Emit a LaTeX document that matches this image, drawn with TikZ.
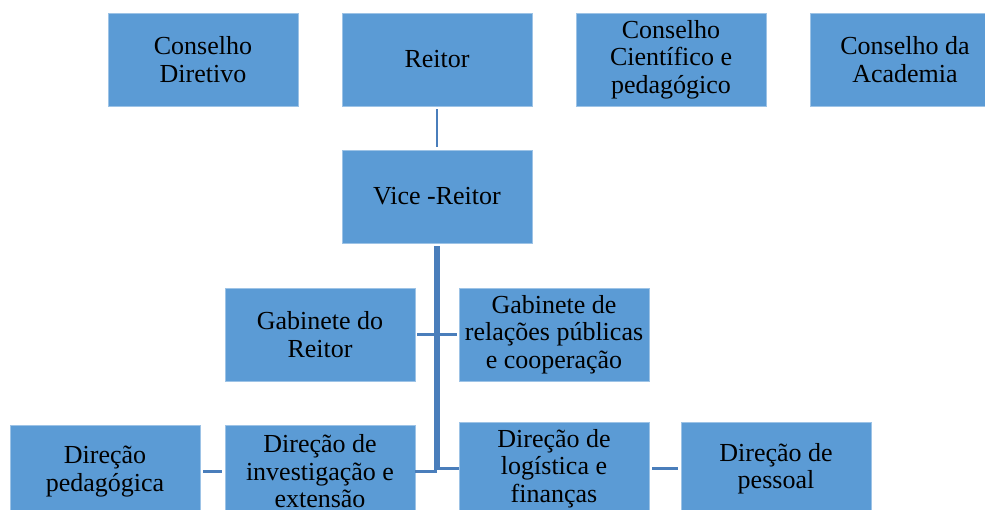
\documentclass[tikz,border=0pt]{standalone}
\usepackage{fontspec}
\setmainfont{Liberation Serif}
\usepackage{xcolor}
\usepackage{tikz}
\usetikzlibrary{positioning,calc}
\definecolor{OrgBlue}{HTML}{5B9BD5}
\definecolor{OrgEdge}{HTML}{9DC3E6}
\definecolor{OrgLine}{HTML}{4A7EBB}
\tikzset{
  unit/.style={fill=OrgBlue,draw=OrgEdge,line width=0.6pt,align=center,
    minimum width=190pt,minimum height=93pt,inner sep=2pt,
    font=\fontsize{26}{27.5}\selectfont},
  link/.style={draw=OrgLine,line width=2.6pt,shorten <=3pt,shorten >=3pt}
}

\begin{document}
\begin{tikzpicture}[x=1pt,y=-1pt]
  \clip (0,0) rectangle (985,509);
  \fill[white] (0,0) rectangle (985,509);
  % top row
  \node[unit] (condir) at (203,59.5) {Conselho\\Diretivo};
  \node[unit] (reitor) at (437,59.5) {Reitor};
  \node[unit] (concient) at (671,59.5) {Conselho\\Científico e\\pedagógico};
  \node[unit] (conacad) at (905,59.5) {Conselho da\\Academia};
  % vice-reitor and gabinetes
  \node[unit] (vice) at (437,196.5) {Vice -Reitor};
  \node[unit] (gabr) at (320,334.5) {Gabinete do\\Reitor};
  \node[unit] (gabrp) at (554,334.5) {Gabinete de\\relações públicas\\e cooperação};
  % direcoes
  \node[unit] (pedag) at (105,471.5) {Direção\\pedagógica};
  \node[unit] (invest) at (320,471.5) {Direção de\\investigação e\\extensão};
  \node[unit] (logis) at (554,468.5) {Direção de\\logística e\\finanças};
  \node[unit] (pessoal) at (776,468.5) {Direção de\\pessoal};
  % connectors
  \draw[link] (reitor) -- (vice);
  \draw[link,shorten >=0pt] ([xshift=-1.5pt]vice.south) |- (invest.east);
  \draw[link,shorten >=0pt] ([xshift=1.5pt]vice.south) |- (logis.west);
  \draw[link,shorten <=2pt,shorten >=2pt] (gabr) -- (gabrp);
  \draw[link] (pedag) -- (invest);
  \draw[link] (logis) -- (pessoal);
\end{tikzpicture}
\end{document}
